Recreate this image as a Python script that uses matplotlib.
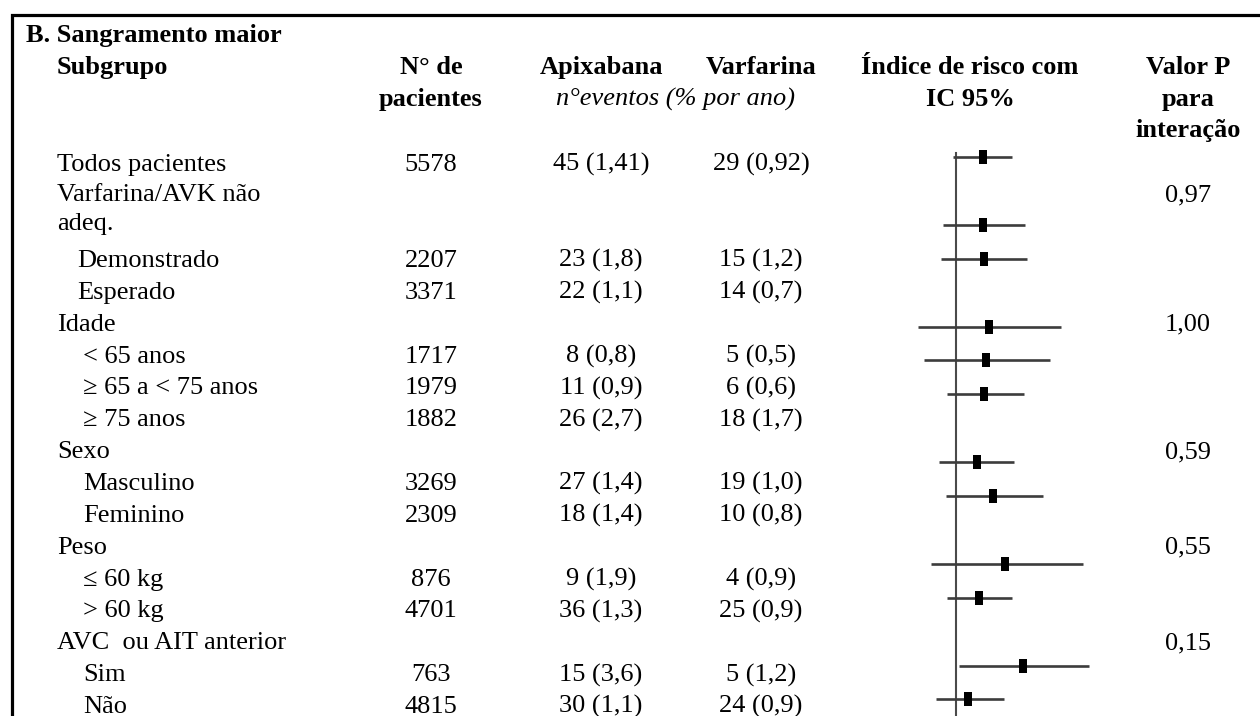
import numpy as np
import matplotlib
matplotlib.use("Agg")
import matplotlib.pyplot as plt
from matplotlib.path import Path

plt.rcParams["font.family"] = ["Liberation Serif", "DejaVu Serif"]

# ---- table data -------------------------------------------------------------
labels = [
    "Todos pacientes", "Varfarina/AVK não\nadeq.", "Demonstrado", "Esperado",
    "Idade", "< 65 anos", "\u2265 65 a < 75 anos", "\u2265 75 anos",
    "Sexo", "Masculino", "Feminino",
    "Peso", "\u2264 60 kg", "> 60 kg",
    "AVC  ou AIT anterior", "Sim", "Não",
]
indent = [0, 0, 1, 1, 0, 2, 2, 2, 0, 2, 2, 0, 2, 2, 0, 2, 2]
n_patients = [5578, None, 2207, 3371, None, 1717, 1979, 1882, None,
              3269, 2309, None, 876, 4701, None, 763, 4815]
apix_events = [45, None, 23, 22, None, 8, 11, 26, None,
               27, 18, None, 9, 36, None, 15, 30]
apix_rate = ["1,41", None, "1,8", "1,1", None, "0,8", "0,9", "2,7", None,
             "1,4", "1,4", None, "1,9", "1,3", None, "3,6", "1,1"]
warf_events = [29, None, 15, 14, None, 5, 6, 18, None,
               19, 10, None, 4, 25, None, 5, 24]
warf_rate = ["0,92", None, "1,2", "0,7", None, "0,5", "0,6", "1,7", None,
             "1,0", "0,8", None, "0,9", "0,9", None, "1,2", "0,9"]
hazard_ratio = [1.54, None, 1.54, 1.57, None, 1.70, 1.62, 1.57, None,
                1.41, 1.82, None, 2.21, 1.45, None, 2.92, 1.22]
ci_low = [0.96, None, 0.81, 0.79, None, 0.55, 0.60, 0.87, None,
          0.77, 0.85, None, 0.67, 0.87, None, 1.06, 0.73]
ci_high = [2.45, None, 3.03, 3.13, None, 5.37, 4.52, 2.97, None,
           2.55, 4.06, None, 7.63, 2.46, None, 8.44, 2.18]
p_interaction = [None, "0,97", None, None, "1,00", None, None, None, "0,59",
                 None, None, "0,55", None, None, "0,15", None, None]

# ---- figure -----------------------------------------------------------------
W, H = 1260, 716
fig = plt.figure(figsize=(W / 100, H / 100), dpi=100)
ax = fig.add_axes([0, 0, 1, 1])
ax.set_xlim(0, W)
ax.set_ylim(H, 0)
ax.axis("off")

FS = 19
txt = dict(fontsize=FS, color="black", va="baseline")

# frame (top and left rules)
ax.plot([11.7, 11.7, W + 5], [H + 5, 15, 15], color="black", lw=2.3,
        solid_joinstyle="miter", solid_capstyle="projecting")

# header
ax.text(26, 41.7, "B. Sangramento maior", fontweight="bold", ha="left", **txt)
ax.text(57, 74, "Subgrupo", fontweight="bold", ha="left", **txt)
ax.text(431, 74, "N° de", fontweight="bold", ha="center", **txt)
ax.text(431, 106, "pacientes", fontweight="bold", ha="center", **txt)
ax.text(601, 74, "Apixabana", fontweight="bold", ha="center", **txt)
ax.text(761, 74, "Varfarina", fontweight="bold", ha="center", **txt)
ax.text(676, 106, "n°eventos (% por ano)", style="italic", ha="center", **txt)
ax.text(970, 74, "Índice de risco com", fontweight="bold", ha="center", **txt)
ax.text(970, 106, "IC 95%", fontweight="bold", ha="center", **txt)
ax.text(1188, 74, "Valor P", fontweight="bold", ha="center", **txt)
ax.text(1188, 106, "para", fontweight="bold", ha="center", **txt)
ax.text(1188, 136.5, "interação", fontweight="bold", ha="center", **txt)

# row baselines
def row_baseline(i):
    if i == 0:
        return 171
    if i == 1:
        return 201
    return 267 + 31.86 * (i - 2)

indent_x = [57, 77, 83]
for i, lab in enumerate(labels):
    y = row_baseline(i)
    lines = lab.split("\n")
    for k, line in enumerate(lines):
        ax.text(indent_x[indent[i]], y + 29 * k, line, ha="left", **txt)
    if n_patients[i] is not None:
        ax.text(431, y, f"{n_patients[i]}", ha="center", **txt)
    if apix_events[i] is not None:
        ax.text(601, y, f"{apix_events[i]} ({apix_rate[i]})", ha="center", **txt)
    if warf_events[i] is not None:
        ax.text(761, y, f"{warf_events[i]} ({warf_rate[i]})", ha="center", **txt)
    if p_interaction[i] is not None:
        ax.text(1188, y, p_interaction[i], ha="center", **txt)

# ---- forest panel -----------------------------------------------------------
px_left, px_right, px_top = 900, 1140, 140
x_ref, px_per_ln = 955.7, 62.5
slot0, slot_h = 157, 33.9

fax = fig.add_axes([px_left / W, 0, (px_right - px_left) / W, (H - px_top) / H])
fax.set_xscale("log")
fax.set_xlim(np.exp((px_left - x_ref) / px_per_ln),
             np.exp((px_right - x_ref) / px_per_ln))
fax.set_ylim((H - slot0) / slot_h, (px_top - slot0) / slot_h)
fax.axis("off")

fax.plot([1, 1], [-0.12, (H - slot0) / slot_h + 1], color="#4a4a4a",
         lw=1.5, clip_on=False, zorder=1)

box = Path([(-0.27, -0.5), (0.27, -0.5), (0.27, 0.5), (-0.27, 0.5), (-0.27, -0.5)],
           [Path.MOVETO, Path.LINETO, Path.LINETO, Path.LINETO, Path.CLOSEPOLY])

for i, hr in enumerate(hazard_ratio):
    if hr is None:
        continue
    fax.plot([ci_low[i], ci_high[i]], [i, i], color="#3c3c3c", lw=1.9,
             solid_capstyle="butt", zorder=2)
    fax.plot([hr], [i], marker=box, markersize=9.5, color="black",
             markeredgewidth=0, linestyle="none", zorder=3)

fig.savefig("out.png", dpi=100)
